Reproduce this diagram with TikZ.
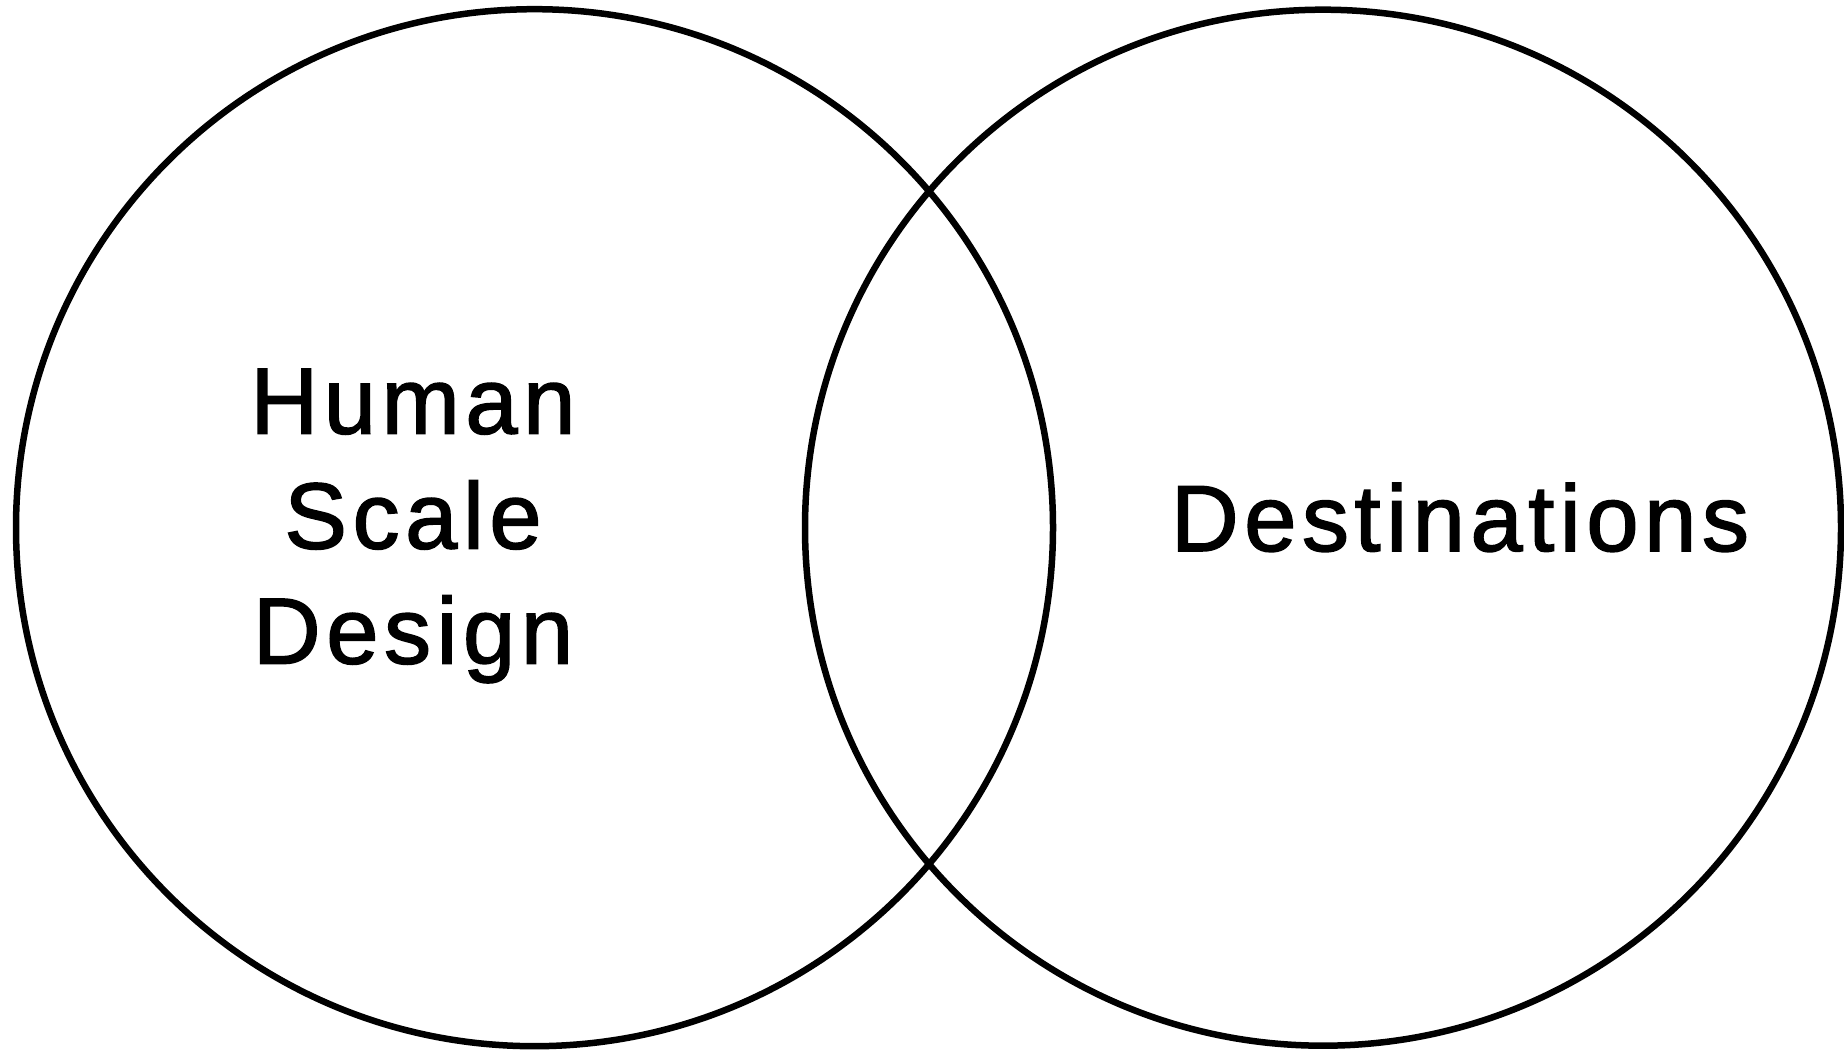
\documentclass[tikz,border=0pt]{standalone}
\usepackage{fontspec}
\setmainfont{Liberation Sans}
\newfontfamily\labelfont[LetterSpace=5.9,FakeBold=1.6]{Liberation Sans}
\usepackage{tikz}
\usetikzlibrary{positioning}
\tikzset{
  setln/.style={line width=6.5pt, black},
  setlabel/.style={font=\labelfont\fontsize{94}{115}\selectfont, inner sep=0pt, align=center},
}

\begin{document}
\begin{tikzpicture}[x=1pt,y=1pt]
    \useasboundingbox (0,0) rectangle (1844,1050);
    % the two sets
    \draw[setln] (534.5,522.3) circle (518.5);
    \draw[setln] (1323,522.3) circle (518);
    % set labels
    \node[setlabel] (hsd) at (413,524) {Human\\Scale\\Design};
    \node[setlabel,anchor=base] (dest) at (1460,499) {Destinations};
  \end{tikzpicture}
\end{document}
